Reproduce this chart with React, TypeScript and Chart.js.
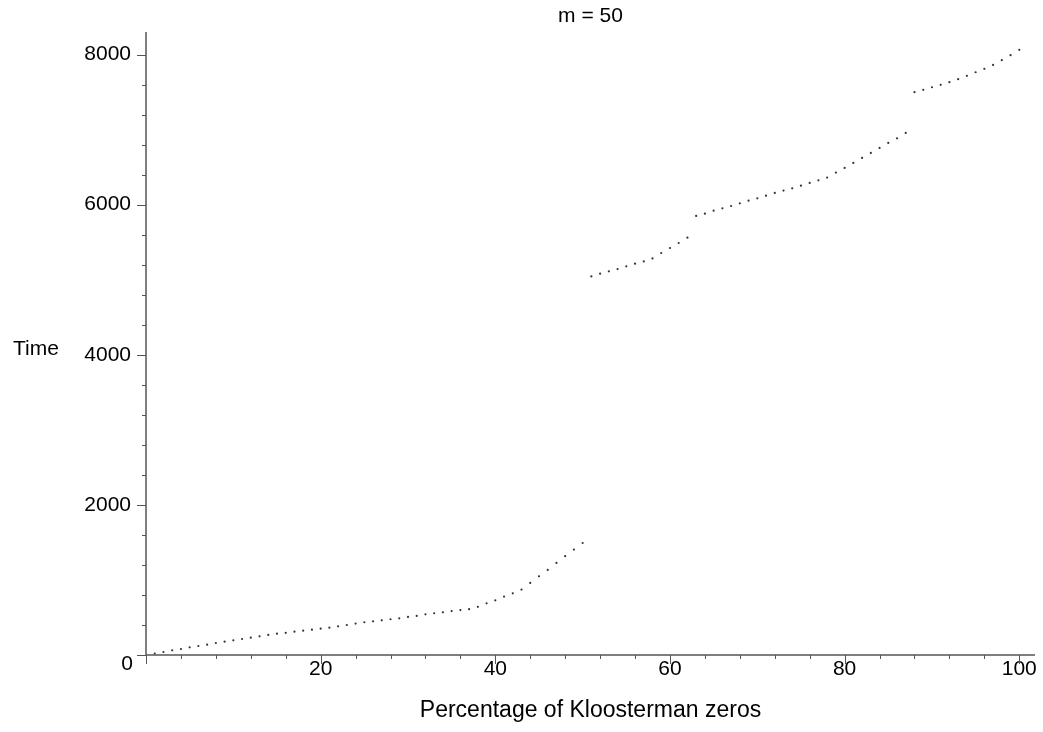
import { useEffect, useRef } from "react";
import { Chart, registerables } from "chart.js";

Chart.register(...registerables);

// ---- data ----
const percentages = [
  1, 2, 3, 4, 5, 6, 7, 8, 9, 10, 11, 12, 13, 14, 15, 16, 17, 18, 19, 20,
  21, 22, 23, 24, 25, 26, 27, 28, 29, 30, 31, 32, 33, 34, 35, 36, 37, 38, 39, 40,
  41, 42, 43, 44, 45, 46, 47, 48, 49, 50, 51, 52, 53, 54, 55, 56, 57, 58, 59, 60,
  61, 62, 63, 64, 65, 66, 67, 68, 69, 70, 71, 72, 73, 74, 75, 76, 77, 78, 79, 80,
  81, 82, 83, 84, 85, 86, 87, 88, 89, 90, 91, 92, 93, 94, 95, 96, 97, 98, 99, 100,
];
const timesPart1 = [
  20, 40, 62, 80, 102, 120, 138, 160, 178, 196, 213, 231, 249, 267, 284, 296, 311, 324, 338, 351,
  364, 382, 400, 418, 436, 449, 462, 476, 489, 507, 520, 542, 556, 569, 585, 598, 611, 642, 689, 729,
  778, 822, 871, 960, 1049, 1133, 1227, 1316, 1404, 1492,
];
const timesPart2 = [5044, 5080, 5111, 5142, 5178, 5213, 5244, 5284, 5356, 5422, 5489, 5560];
const timesPart3 = [
  5849, 5880, 5920, 5951, 5982, 6018, 6053, 6084, 6120, 6156, 6187, 6218, 6253, 6289, 6324, 6360,
  6427, 6489, 6556, 6622, 6689, 6756, 6822, 6884, 6955,
];
const timesPart4 = [7498, 7529, 7564, 7596, 7631, 7671, 7716, 7764, 7809, 7862, 7924, 7991, 8062];

const xTickValues = [0, 4, 8, 12, 16, 20, 24, 28, 32, 36, 40, 44, 48, 52, 56, 60, 64, 68, 72, 76, 80, 84, 88, 92, 96, 100];
const xLabelValues = [20, 40, 60, 80, 100];
const yTickValues = [0, 400, 800, 1200, 1600, 2000, 2400, 2800, 3200, 3600, 4000, 4400, 4800, 5200, 5600, 6000, 6400, 6800, 7200, 7600, 8000];
const yLabelValues = [2000, 4000, 6000, 8000];

const TITLE = "m = 50";
const X_TITLE = "Percentage of Kloosterman zeros";
const Y_TITLE = "Time";

const FONT = "'Liberation Sans', Arial, Helvetica, sans-serif";
const AXIS_COLOR = "#555555";
const POINT_COLOR = "#333333";

const times = [...timesPart1, ...timesPart2, ...timesPart3, ...timesPart4];

const axisDecor = {
  id: "axisDecor",
  afterDraw(chart: any) {
    const { ctx, chartArea, scales } = chart;
    const xs = scales.x;
    const ys = scales.y;
    const x0 = chartArea.left;
    const y0 = chartArea.bottom;
    ctx.save();
    ctx.strokeStyle = AXIS_COLOR;
    ctx.lineWidth = 1.5;
    ctx.beginPath();
    ctx.moveTo(x0, chartArea.top);
    ctx.lineTo(x0, y0);
    ctx.lineTo(chartArea.right, y0);
    ctx.stroke();
    ctx.lineWidth = 1;
    ctx.beginPath();
    for (const v of xTickValues) {
      const px = Math.round(xs.getPixelForValue(v)) + 0.5;
      const len = v % 20 === 0 ? 9 : 4;
      ctx.moveTo(px, y0);
      ctx.lineTo(px, y0 + len);
    }
    for (const v of yTickValues) {
      const py = Math.round(ys.getPixelForValue(v)) + 0.5;
      const len = v % 2000 === 0 ? 9 : 4;
      ctx.moveTo(x0, py);
      ctx.lineTo(x0 - len, py);
    }
    ctx.stroke();
    // y title (horizontal, as in the reference)
    ctx.fillStyle = "#000";
    ctx.font = `21px ${FONT}`;
    ctx.textAlign = "center";
    ctx.textBaseline = "middle";
    ctx.fillText(Y_TITLE, x0 - 110, (chartArea.top + chartArea.bottom) / 2 + 6);
    // the zero label sits just below the x axis
    ctx.font = `21px ${FONT}`;
    ctx.textAlign = "right";
    ctx.fillText("0", x0 - 13, ys.getPixelForValue(0) + 9);
    ctx.restore();
  },
};

export default function App() {
  const canvasRef = useRef<HTMLCanvasElement | null>(null);

  useEffect(() => {
    if (!canvasRef.current) return;
    const data = percentages.map((p, i) => ({ x: p, y: times[i] }));
    const chart = new Chart(canvasRef.current, {
      type: "scatter",
      data: {
        datasets: [
          {
            data,
            pointRadius: 1.1,
            pointHoverRadius: 1.1,
            pointBackgroundColor: POINT_COLOR,
            pointBorderWidth: 0,
            showLine: false,
          },
        ],
      },
      options: {
        responsive: false,
        animation: false,
        events: [],
        layout: { padding: { top: 0, right: 8, bottom: 0, left: 0 } },
        plugins: {
          legend: { display: false },
          tooltip: { enabled: false },
          title: {
            display: true,
            text: TITLE,
            fullSize: false,
            color: "#000",
            font: { family: FONT, size: 21, weight: "normal" },
            padding: { top: 4, bottom: 2.8 },
          },
        },
        scales: {
          x: {
            type: "linear",
            min: 0,
            max: 101.8,
            afterBuildTicks: (scale: any) => {
              scale.ticks = xLabelValues.map((v) => ({ value: v }));
            },
            afterFit: (scale: any) => {
              scale.height = 77;
            },
            grid: { display: false, drawTicks: false },
            border: { display: false },
            ticks: {
              color: "#000",
              padding: 2,
              maxRotation: 0,
              font: { family: FONT, size: 21 },
              callback: (v: any) => String(v),
            },
            title: {
              display: true,
              text: X_TITLE,
              color: "#000",
              font: { family: FONT, size: 23 },
              padding: { top: 0, bottom: 8 },
            },
          },
          y: {
            type: "linear",
            min: 0,
            max: 8300,
            afterBuildTicks: (scale: any) => {
              scale.ticks = yLabelValues.map((v) => ({ value: v }));
            },
            afterFit: (scale: any) => {
              scale.width = 146;
            },
            grid: { display: false, drawTicks: false },
            border: { display: false },
            ticks: {
              color: "#000",
              padding: 15,
              font: { family: FONT, size: 21 },
              callback: (v: any) => String(v),
            },
          },
        },
      },
      plugins: [axisDecor],
    });
    return () => chart.destroy();
  }, []);

  return (
    <div style={{ position: "fixed", left: 0, top: 0, width: 1043, height: 732, background: "#fff" }}>
      <canvas ref={canvasRef} width={1043} height={732} style={{ display: "block" }} />
    </div>
  );
}
